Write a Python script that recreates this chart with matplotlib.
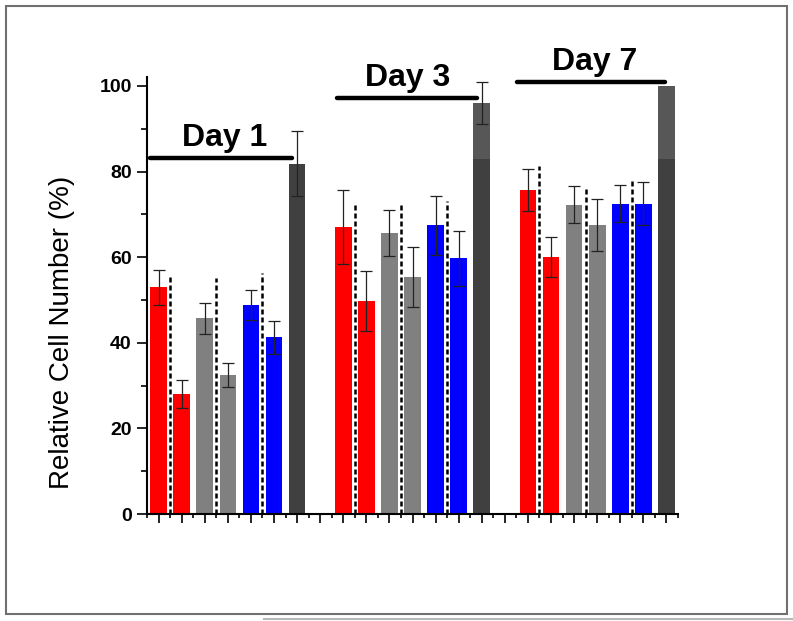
import matplotlib.pyplot as plt
from matplotlib.patches import Rectangle
from matplotlib.lines import Line2D

plt.rcParams['font.family'] = ['Liberation Sans', 'DejaVu Sans']

# data
days = ["Day 1", "Day 3", "Day 7"]
bar_colors = ['#ff0000', '#ff0000', '#808080', '#808080', '#0000ff', '#0000ff', '#404040']

day1_vals = [53.0, 28.0, 45.7, 32.5, 48.8, 41.3, 81.8]
day1_errs = [4.1, 3.2, 3.6, 2.8, 3.5, 3.9, 7.6]
day3_vals = [67.0, 49.8, 65.7, 55.3, 67.4, 59.7, 96.0]
day3_errs = [8.6, 7.0, 5.4, 7.0, 7.0, 6.5, 5.0]
day7_vals = [75.7, 60.1, 72.3, 67.5, 72.5, 72.5, 100.0]
day7_errs = [5.0, 4.7, 4.4, 6.1, 4.3, 5.0, 0.0]

# dashed separators (height of each)
day1_dash = [55.6, 55.1, 56.3]
day3_dash = [72.4, 72.7, 73.1]
day7_dash = [81.3, 76.3, 78.2]

# header bars for each day
header_y = [83.1, 97.1, 100.9]

all_vals = [day1_vals, day3_vals, day7_vals]
all_errs = [day1_errs, day3_errs, day7_errs]
all_dash = [day1_dash, day3_dash, day7_dash]

fig = plt.figure(figsize=(7.93, 6.21), dpi=100)
ax = fig.add_axes([0.1854, 0.1723, 0.6696, 0.7031])

width = 0.72
ctrl_split = 83  # control bar drawn in two shades above this
for g in range(3):
    base = 1 + 8 * g
    xs = [base + i for i in range(7)]
    vals = all_vals[g]
    errs = all_errs[g]
    for i, (x, v, e) in enumerate(zip(xs, vals, errs)):
        if i == 6 and v > ctrl_split:
            ax.bar(x, ctrl_split, width=width, color='#404040', zorder=2)
            ax.bar(x, v - ctrl_split, bottom=ctrl_split, width=width, color='#575757', zorder=2)
        else:
            ax.bar(x, v, width=width, color=bar_colors[i], zorder=2)
        if e > 0:
            ax.errorbar(x, v, yerr=e, fmt='none', ecolor='#222222', elinewidth=0.9,
                        capsize=4.5, capthick=0.9, zorder=3)
    # dashed separators
    for k, h in enumerate(all_dash[g]):
        ax.plot([base + 0.5 + 2 * k] * 2, [0, h], color='black', lw=1.8,
                linestyle=(0, (2, 1.2)), zorder=4)

# day headers
line_x = [(0.61, 6.8), (8.73, 14.8), (16.54, 22.95)]
text_x = [3.86, 11.77, 19.9]
for g in range(3):
    ax.plot(line_x[g], [header_y[g]] * 2, color='black', lw=3.2,
            solid_capstyle='round', clip_on=False, zorder=5)
    ax.text(text_x[g], header_y[g] + 2.9, days[g], ha='center', va='baseline',
            fontsize=23, fontweight='bold', clip_on=False)

ax.set_xlim(0.5, 23.5)
ax.set_ylim(0, 102)
ax.spines['top'].set_visible(False)
ax.spines['right'].set_visible(False)
ax.spines['left'].set_linewidth(1.5)
ax.spines['bottom'].set_linewidth(1.5)

ax.set_xticks(range(1, 24))
ax.set_xticks([i + 0.5 for i in range(0, 24)], minor=True)
ax.set_xticklabels([])
ax.tick_params(axis='x', which='major', direction='out', length=6.5, width=1.2)
ax.tick_params(axis='x', which='minor', direction='out', length=3, width=1.2)

ax.set_yticks([0, 20, 40, 60, 80, 100])
ax.set_yticks([10, 30, 50, 70, 90], minor=True)
ax.tick_params(axis='y', which='major', direction='out', length=7, width=1.2,
               labelsize=14, pad=4)
ax.tick_params(axis='y', which='minor', direction='out', length=4, width=1.2)
for lab in ax.get_yticklabels():
    lab.set_fontweight('bold')

ax.set_ylabel('Relative Cell Number (%)', fontsize=20)
ax.yaxis.set_label_coords(-0.135, 0.415)

# outer frame of the figure
fig.patches.append(Rectangle((6 / 793, 1 - 614 / 621), 781 / 793, 608 / 621,
                             transform=fig.transFigure, fill=False,
                             edgecolor='#707070', lw=1.5))
fig.lines.append(Line2D([264 / 793, 1], [1 - 619 / 621] * 2, transform=fig.transFigure,
                        color='#b8b8b8', lw=1.5))

fig.savefig('out.png', dpi=100)
